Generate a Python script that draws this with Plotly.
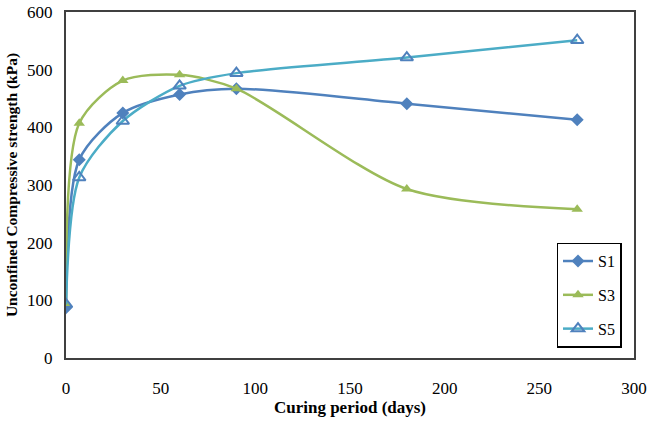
import plotly.graph_objects as go

days = [0, 7, 30, 60, 90, 180, 270]
s1 = [87, 344, 425, 457, 467, 441, 413]
s3 = [92, 407, 481, 491, 467, 293, 258]
s5 = [93, 313, 411, 472, 494, 521, 551]

fig = go.Figure()
fig.add_trace(go.Scatter(x=days, y=s1, name="S1", mode="lines+markers", legendgroup="a",
                         line=dict(color="#4F81BD", width=2.5, shape="spline", smoothing=0.8),
                         marker=dict(symbol="diamond", size=10, color="#4F81BD")))
fig.add_trace(go.Scatter(x=days, y=s3, name="S3", mode="lines+markers", legendgroup="b",
                         line=dict(color="#9BBB59", width=2.5, shape="spline", smoothing=0.8),
                         marker=dict(symbol="triangle-up", size=10, color="#9BBB59")))
fig.add_trace(go.Scatter(x=days, y=s5, name="S5", mode="lines+markers", legendgroup="c",
                         line=dict(color="#4BACC6", width=2.5, shape="spline", smoothing=0.8),
                         marker=dict(symbol="triangle-up-open", size=11, color="#4F81BD",
                                     line=dict(width=2, color="#4F81BD"))))

font = "Liberation Serif, Times New Roman, serif"
fig.update_layout(
    width=647, height=421,
    margin=dict(l=66, r=13, t=12, b=63),
    paper_bgcolor="white", plot_bgcolor="white",
    font=dict(family=font, size=17, color="black"),
    legend=dict(x=0.978, y=0.03, xanchor="right", yanchor="bottom",
                bordercolor="black", borderwidth=1.5, bgcolor="white",
                font=dict(size=16), tracegroupgap=10, itemwidth=30),
    showlegend=True,
)
fig.update_xaxes(range=[0, 300], dtick=50, showgrid=False, zeroline=False,
                 showline=True, linecolor="#404040", linewidth=2, mirror=True,
                 ticks="", ticklabelstandoff=14, automargin=False,
                 title=dict(text="<b>Curing period (days)</b>", font=dict(size=17), standoff=2))
fig.update_yaxes(range=[0, 600], dtick=100, showgrid=False, zeroline=False,
                 showline=True, linecolor="#404040", linewidth=2, mirror=True,
                 ticks="", ticklabelstandoff=8, automargin=False,
                 title=dict(text="<b>Unconfined Compressive strength (kPa)</b>", font=dict(size=15.5), standoff=6))

fig.write_html("out.html")
